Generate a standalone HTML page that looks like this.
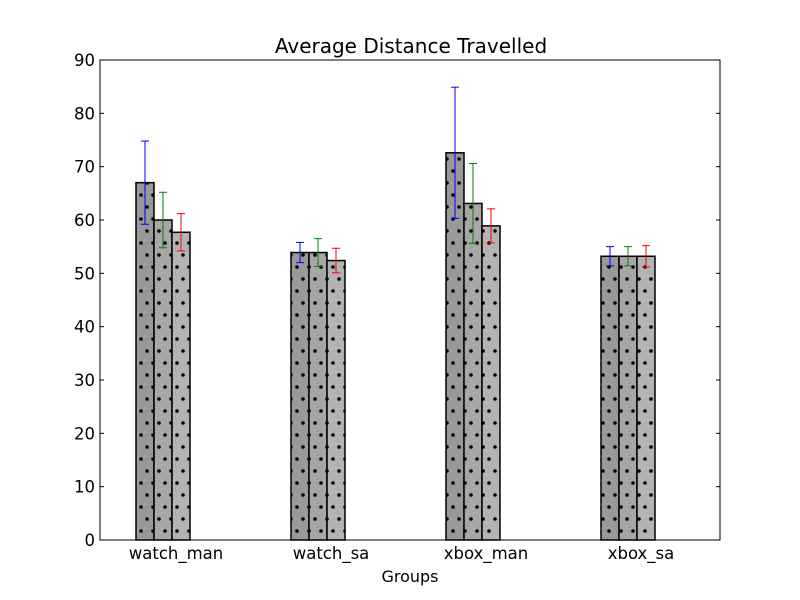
<!DOCTYPE html>
<html><head><meta charset="utf-8"><style>body{margin:0;background:#fff}svg{display:block;font-family:"DejaVu Sans","Liberation Sans",sans-serif}</style></head>
<body>
<svg id="chart" width="800" height="600">
<defs>
<pattern id="dots" width="12" height="24" patternUnits="userSpaceOnUse" x="3" y="0">
<circle cx="6" cy="3" r="1.8" fill="#000"/><circle cx="0" cy="15" r="1.8" fill="#000"/><circle cx="12" cy="15" r="1.8" fill="#000"/>
</pattern>
</defs>
<rect x="0" y="0" width="800" height="600" fill="#fff"/>
<text x="411" y="53" text-anchor="middle" font-size="20">Average Distance Travelled</text>
<text x="410" y="582" text-anchor="middle" font-size="16">Groups</text>
<g id="plot"></g>
<rect x="100" y="60" width="620" height="480" fill="none" stroke="#000" stroke-width="1"/>
</svg>
<script>
const categories = ["watch_man","watch_sa","xbox_man","xbox_sa"];
const series1 = [67.0, 53.9, 72.6, 53.2];
const series2 = [60.0, 53.9, 63.1, 53.2];
const series3 = [57.7, 52.4, 58.9, 53.2];
const err1 = [7.8, 1.9, 12.3, 1.8];
const err2 = [5.2, 2.6, 7.5, 1.8];
const err3 = [3.5, 2.3, 3.2, 2.0];
const yTicks = [0,10,20,30,40,50,60,70,80,90];

const NS = "http://www.w3.org/2000/svg";
const g = document.getElementById("plot");
const y = v => 540 - v * 480 / 90;
const xg = i => 136 + 155 * i;
const BW = 18;
function mk(tag, attrs, parent) { const e = document.createElementNS(NS, tag); for (const k in attrs) e.setAttribute(k, attrs[k]); (parent || g).appendChild(e); return e; }

const series = [series1, series2, series3];
const errs = [err1, err2, err3];
const fills = ["#999999", "#a6a6a6", "#b3b3b3"];
const ecol = ["#0000ff", "#008000", "#ff0000"];
series.forEach((s, si) => {
  s.forEach((v, i) => {
    const x = xg(i) + si * BW;
    const b = mk("rect", {x: x, y: y(v), width: BW, height: 540 - y(v), fill: fills[si], stroke: "none"});
    
    
    const h = mk("rect", {x: x, y: y(v), width: BW, height: 540 - y(v), fill: "url(#dots)", stroke: "#000", "stroke-width": 1.5});
    
    
  });
});
series.forEach((s, si) => {
  s.forEach((v, i) => {
    const cx = xg(i) + si * BW + BW / 2;
    const e = errs[si][i];
    const eg = mk("g", {stroke: ecol[si], "stroke-width": 1});
    
    
    mk("line", {x1: cx, x2: cx, y1: y(v + e), y2: y(v - e)}, eg);
    mk("line", {x1: cx - 4, x2: cx + 4, y1: y(v + e), y2: y(v + e)}, eg);
    mk("line", {x1: cx - 4, x2: cx + 4, y1: y(v - e), y2: y(v - e)}, eg);
  });
});
yTicks.forEach(t => {
  const yy = y(t);
  mk("line", {x1: 100, x2: 104, y1: yy, y2: yy, stroke: "#000"});
  mk("line", {x1: 716, x2: 720, y1: yy, y2: yy, stroke: "#000"});
  const tx = mk("text", {x: 95, y: yy + 6, "text-anchor": "end", "font-size": 16.5});
  tx.textContent = t;
  
  
});
categories.forEach((c, i) => {
  const tx = mk("text", {x: xg(i) + 40, y: 559, "text-anchor": "middle", "font-size": 16.5});
  tx.textContent = c;
  
  
});
</script>
</body></html>
